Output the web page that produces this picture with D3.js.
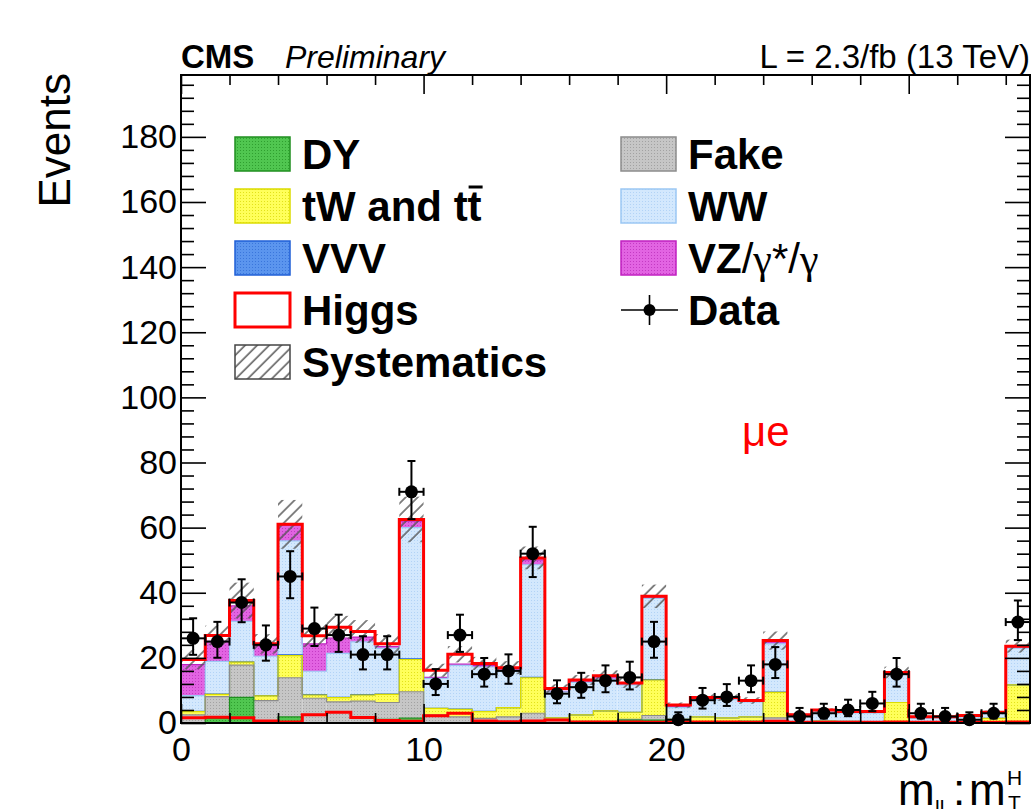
<!DOCTYPE html>
<html>
<head>
<meta charset="utf-8">
<script src="https://cdn.jsdelivr.net/npm/d3@7"></script>
<style>
body { margin: 0; background: #fff; }
svg { display: block; }
</style>
</head>
<body>
<div class="diagram"></div>
<script>
// bin edges of m_ll : m_T^H (unrolled)
const binEdges = [0,1,2,3,4,5,6,7,8,9,10,11,12,13,14,15,16,17,18,19,20,21,22,23,24,25,26,27,28,29,30,31,32,33,34,35];

// stacked backgrounds, bottom to top
const dy    = [0,1.4,7.9,0.2,1.9,0,0,0,1.1,1.5,0,0,0,0,0,0,0,0,0.9,0.9,0,0,0,0.5,0.7,0,0,0,0,0,0,0,0,0,0];
const fake  = [2.5,6.7,9.9,6.7,12.0,7.6,6.5,6.7,5.2,8.1,2.5,1.9,1.4,1.9,3.0,0.9,0.5,0.5,0.2,1.4,0.1,0,0,0,0.9,0,0,0,0,0,0,0,0,0,0];
const topTW = [1.0,0.7,0.9,1.4,6.8,1.0,1.3,1.9,2.5,9.9,2.0,2.3,2.1,2.8,10.9,0.7,2.0,3.2,2.2,10.9,1.0,1.9,1.6,1.4,7.8,0.4,0.6,0.5,0.4,6.3,0.3,0.3,0.3,1.4,11.7];
const vvv   = [0.1,0.1,0.1,0.1,0.2,0.1,0.1,0.1,0.1,0.2,0,0.1,0.1,0,0.1,0,0,0,0,0.1,0,0,0,0,0.1,0,0,0,0,0,0,0,0,0,0];
const ww    = [4.8,10.0,12.4,12.1,35.0,7.2,13.5,16.2,14.0,40.3,9.2,13.4,13.6,11.5,34.6,8.0,10.0,9.8,8.4,25.0,3.6,5.3,5.6,4.6,14.8,1.7,3.0,2.6,2.7,8.6,1.1,1.3,1.6,1.5,11.3];
const vz    = [9.5,6.2,4.8,3.2,4.8,8.4,4.7,1.5,0.6,2.0,0.3,0.4,0.5,0.4,1.5,0.1,0.4,0.7,0.3,0.4,0.5,0.3,0.3,0.2,0.5,0.2,0.2,0.2,0.2,0.3,0.3,0.1,0.2,0.2,0.3];
const higgs = [1.6,1.8,1.6,0.6,0.3,2.5,3.3,1.7,0.8,0.5,2.2,3.0,0.6,0.4,0.6,0.9,0.3,0.3,0.3,0.2,0.3,0.3,0.3,0.2,0.5,0.2,0.2,0.2,0.2,0.3,0.2,0.2,0.2,0.2,0.3];

// observed events and systematic band (absolute)
const dataCounts = [26,25,37,24,45,29,27,21,21,71,12,27,15,16,52,9,11,13,14,25,1,7,8,13,18,2,3,4,6,15,3,2,1,3,31];
const systErr = [3.0,3.0,5.5,3.0,7.5,3.5,3.5,3.5,3.0,7.0,2.0,2.5,2.0,2.0,3.5,1.3,1.5,1.7,1.5,3.6,0.8,1.0,1.0,1.0,2.8,0.4,0.5,0.5,0.5,1.8,0.3,0.3,0.3,0.5,2.0];

const yTicks = [0,20,40,60,80,100,120,140,160,180];
const xTicks = [0,10,20,30];

const FONT = '"Liberation Sans", Arial, Helvetica, sans-serif';
const W = 1036, H = 809;

let x = d3.scaleLinear().domain([0,35]).range([181,1030]);
let y = d3.scaleLinear().domain([0,199]).range([723,75]);

let svg = d3.select('.diagram').append('svg').attr('width',W).attr('height',H);
let defs = svg.append('defs');

let keys = ['DY','Fake','Top','VVV','WW','VZ','Higgs'];
let styles = {
    DY:    { base: '#50c650', dot: '#2f9f2f', line: '#1f8f1f' },
    Fake:  { base: '#c6c6c6', dot: '#a2a2a2', line: '#8c8c8c' },
    Top:   { base: '#ffff5a', dot: '#e2e21a', line: '#dcdc00' },
    VVV:   { base: '#5b95ee', dot: '#3a76dc', line: '#1f5fd6' },
    WW:    { base: '#d3e8fd', dot: '#b2d3f6', line: '#9cc8f4' },
    VZ:    { base: '#e264e2', dot: '#c43ac4', line: '#c020c0' },
    Higgs: { base: '#ffffff', dot: '#ffffff', line: '#ff0000' }
};

// dotted fills
keys.forEach(function (k) {
    let s = styles[k];
    let p = defs.append('pattern').attr('id','fill-'+k).attr('patternUnits','userSpaceOnUse')
        .attr('width',3).attr('height',3);
    p.append('rect').attr('width',3).attr('height',3).attr('fill',s.base);
    p.append('rect').attr('width',1).attr('height',1).attr('fill',s.dot);
});
// hatch for systematics
let hatch = defs.append('pattern').attr('id','hatch').attr('patternUnits','userSpaceOnUse')
    .attr('width',8.5).attr('height',8.5).attr('patternTransform','rotate(45)');
hatch.append('line').attr('x1',1).attr('y1',0).attr('x2',1).attr('y2',8.5)
    .attr('stroke','#505050').attr('stroke-width',1.4);

let rows = dataCounts.map(function (n, i) {
    return { i: i, lo: binEdges[i], hi: binEdges[i+1],
        DY: dy[i], Fake: fake[i], Top: topTW[i], VVV: vvv[i], WW: ww[i], VZ: vz[i], Higgs: higgs[i] };
});
let series = d3.stack().keys(keys)(rows);

let plot = svg.append('g');

// fills
series.forEach(function (layer) {
    plot.append('g').selectAll('rect').data(layer).enter().append('rect')
        .attr('x', d => x(d.data.lo))
        .attr('width', d => x(d.data.hi) - x(d.data.lo))
        .attr('y', d => y(d[1]))
        .attr('height', d => Math.max(0, y(d[0]) - y(d[1])))
        .attr('fill', 'url(#fill-' + layer.key + ')');
});

let stepLine = d3.line().x(p => x(p[0])).y(p => y(p[1])).curve(d3.curveStepAfter);
function stepPoints(vals) {
    return binEdges.map((e, j) => [e, vals[Math.min(j, vals.length - 1)]]);
}

// outlines: upper layers first so lower colours win where they meet
series.slice().reverse().forEach(function (layer) {
    if (layer.key === 'Higgs') return;
    plot.append('path').attr('d', stepLine(stepPoints(layer.map(d => d[1]))))
        .attr('fill','none').attr('stroke', styles[layer.key].line).attr('stroke-width',1.2);
});

// systematics band around the total
let totals = series[series.length - 1].map(d => d[1]);
plot.append('g').selectAll('rect').data(rows).enter().append('rect')
    .attr('x', d => x(d.lo))
    .attr('width', d => x(d.hi) - x(d.lo))
    .attr('y', d => y(totals[d.i] + systErr[d.i]))
    .attr('height', d => y(totals[d.i] - systErr[d.i]) - y(totals[d.i] + systErr[d.i]))
    .attr('fill','url(#hatch)');

// total (Higgs on top of stack) and Higgs alone
plot.append('path').attr('d', stepLine(stepPoints(totals)))
    .attr('fill','none').attr('stroke','#ff0000').attr('stroke-width',3);
plot.append('path').attr('d', stepLine(stepPoints(higgs)))
    .attr('fill','none').attr('stroke','#ff0000').attr('stroke-width',3);

// data with Poisson errors
function poissonLow(n) {
    if (n === 0) return 0;
    return n * Math.pow(1 - 1/(9*n) - 1/(3*Math.sqrt(n)), 3);
}
function poissonHigh(n) {
    let m = n + 1;
    return m * Math.pow(1 - 1/(9*m) + 1/(3*Math.sqrt(m)), 3);
}
let dataG = plot.append('g').attr('stroke','#000').attr('stroke-width',2);
rows.forEach(function (d) {
    let n = dataCounts[d.i];
    let cx = x((d.lo + d.hi) / 2), cy = y(n);
    let yl = y(poissonLow(n)), yh = y(poissonHigh(n));
    let xl = x(d.lo), xh = x(d.hi);
    dataG.append('line').attr('x1',cx).attr('x2',cx).attr('y1',yh).attr('y2',Math.min(yl, 723));
    dataG.append('line').attr('x1',cx-4).attr('x2',cx+4).attr('y1',yh).attr('y2',yh);
    if (yl < 722) dataG.append('line').attr('x1',cx-4).attr('x2',cx+4).attr('y1',yl).attr('y2',yl);
    dataG.append('line').attr('x1',xl).attr('x2',xh).attr('y1',cy).attr('y2',cy);
    dataG.append('line').attr('x1',xl).attr('x2',xl).attr('y1',cy-4).attr('y2',cy+4);
    dataG.append('line').attr('x1',xh).attr('x2',xh).attr('y1',cy-4).attr('y2',cy+4);
    dataG.append('circle').attr('cx',cx).attr('cy',cy).attr('r',6.5).attr('fill','#000').attr('stroke','none');
});

// axes
let yMinor = d3.range(4, 199, 4).filter(v => v % 20 !== 0);
let xMinor = d3.range(2, 35, 2).filter(v => v % 10 !== 0);

function addAxis(gen, tr) {
    let g = svg.append('g').attr('transform', tr).call(gen);
    g.select('.domain').remove();
    g.selectAll('line').attr('stroke','#000').attr('stroke-width',1.6);
    g.selectAll('text').attr('font-family',FONT).attr('font-size',34).attr('fill','#000');
    return g;
}
addAxis(d3.axisLeft(y).tickValues(yTicks).tickSizeInner(-25).tickSizeOuter(0).tickPadding(4).tickFormat(d3.format('d')), 'translate(181,0)');
addAxis(d3.axisLeft(y).tickValues(yMinor).tickSizeInner(-13).tickSizeOuter(0).tickFormat(''), 'translate(181,0)');
addAxis(d3.axisRight(y).tickValues(yTicks).tickSizeInner(-25).tickSizeOuter(0).tickFormat(''), 'translate(1030,0)');
addAxis(d3.axisRight(y).tickValues(yMinor).tickSizeInner(-13).tickSizeOuter(0).tickFormat(''), 'translate(1030,0)');
addAxis(d3.axisBottom(x).tickValues(xTicks).tickSizeInner(-19).tickSizeOuter(0).tickPadding(14).tickFormat(d3.format('d')), 'translate(0,723)');
addAxis(d3.axisBottom(x).tickValues(xMinor).tickSizeInner(-10).tickSizeOuter(0).tickFormat(''), 'translate(0,723)');
addAxis(d3.axisTop(x).tickValues(xTicks).tickSizeInner(-19).tickSizeOuter(0).tickFormat(''), 'translate(0,75)');
addAxis(d3.axisTop(x).tickValues(xMinor).tickSizeInner(-10).tickSizeOuter(0).tickFormat(''), 'translate(0,75)');

svg.append('rect').attr('x',181).attr('y',75).attr('width',1030-181).attr('height',723-75)
    .attr('fill','none').attr('stroke','#000').attr('stroke-width',2);

// titles
let txt = svg.append('g').attr('font-family',FONT).attr('fill','#000');
txt.append('text').attr('x',181).attr('y',68).attr('font-size',33).attr('font-weight','bold').text('CMS');
txt.append('text').attr('x',285).attr('y',68).attr('font-size',32).attr('font-style','italic').text('Preliminary');
txt.append('text').attr('x',1030).attr('y',68).attr('font-size',33).attr('text-anchor','end').text('L = 2.3/fb (13 TeV)');
txt.append('text').attr('transform','translate(70,73) rotate(-90)').attr('text-anchor','end')
    .attr('font-size',44).text('Events');

// x title runs off the bottom-right edge, as in the original
txt.append('text').attr('x',898).attr('y',805).attr('font-size',44).text('m');
txt.append('text').attr('x',935).attr('y',815).attr('font-size',21).text('ll');
txt.append('text').attr('x',953).attr('y',805).attr('font-size',44).text(':');
txt.append('text').attr('x',969).attr('y',805).attr('font-size',44).text('m');
txt.append('text').attr('x',1007).attr('y',785).attr('font-size',21).text('H');
txt.append('text').attr('x',1008).attr('y',810).attr('font-size',21).text('T');

txt.append('text').attr('x',742).attr('y',446).attr('font-size',42).attr('fill','#ff0000').text('\u03bce');

// legend
let legendCol1 = [
    { label: 'DY', kind: 'DY' },
    { label: 'tW and tt', kind: 'Top', bar: true },
    { label: 'VVV', kind: 'VVV' },
    { label: 'Higgs', kind: 'Higgs' },
    { label: 'Systematics', kind: 'syst' }
];
let legendCol2 = [
    { label: 'Fake', kind: 'Fake' },
    { label: 'WW', kind: 'WW' },
    { label: 'VZ', kind: 'VZ', gamma: true },
    { label: 'Data', kind: 'data' }
];
let leg = svg.append('g').attr('font-family',FONT);
function drawLegend(items, boxX, textX) {
    items.forEach(function (it, i) {
        let cy = 154 + i * 52;
        if (it.kind === 'data') {
            leg.append('line').attr('x1',boxX).attr('x2',boxX+57).attr('y1',cy).attr('y2',cy).attr('stroke','#000').attr('stroke-width',1.6);
            leg.append('line').attr('x1',boxX+28.5).attr('x2',boxX+28.5).attr('y1',cy-15).attr('y2',cy+15).attr('stroke','#000').attr('stroke-width',1.6);
            leg.append('circle').attr('cx',boxX+28.5).attr('cy',cy).attr('r',6).attr('fill','#000');
        } else if (it.kind === 'syst') {
            leg.append('rect').attr('x',boxX).attr('y',cy-17).attr('width',55).attr('height',34)
                .attr('fill','url(#hatch)').attr('stroke','#444').attr('stroke-width',1.5);
        } else if (it.kind === 'Higgs') {
            leg.append('rect').attr('x',boxX).attr('y',cy-17).attr('width',55).attr('height',34)
                .attr('fill','#fff').attr('stroke','#ff0000').attr('stroke-width',3);
        } else {
            leg.append('rect').attr('x',boxX).attr('y',cy-17).attr('width',55).attr('height',34)
                .attr('fill','url(#fill-' + it.kind + ')').attr('stroke',styles[it.kind].line).attr('stroke-width',1.5);
        }
        let t = leg.append('text').attr('x',textX).attr('y',cy+15).attr('font-size',42)
            .attr('font-weight','bold').attr('fill','#000').text(it.label);
        if (it.bar) {
            let node = t.node();
            let n = it.label.length;
            let s = node.getStartPositionOfChar(n - 1);
            let w = node.getSubStringLength(n - 1, 1);
            leg.append('line').attr('x1',s.x + 1).attr('x2',s.x + w + 1).attr('y1',cy - 19).attr('y2',cy - 19)
                .attr('stroke','#000').attr('stroke-width',3);
        }
        if (it.gamma) {
            t.append('tspan').attr('font-weight','normal').text('/');
            t.append('tspan').attr('font-weight','normal').attr('font-family','"Liberation Serif", serif').text('\u03b3');
            t.append('tspan').attr('font-weight','normal').text('*/');
            t.append('tspan').attr('font-weight','normal').attr('font-family','"Liberation Serif", serif').text('\u03b3');
        }
    });
}
drawLegend(legendCol1, 235, 302);
drawLegend(legendCol2, 621, 688);
</script>
</body>
</html>
